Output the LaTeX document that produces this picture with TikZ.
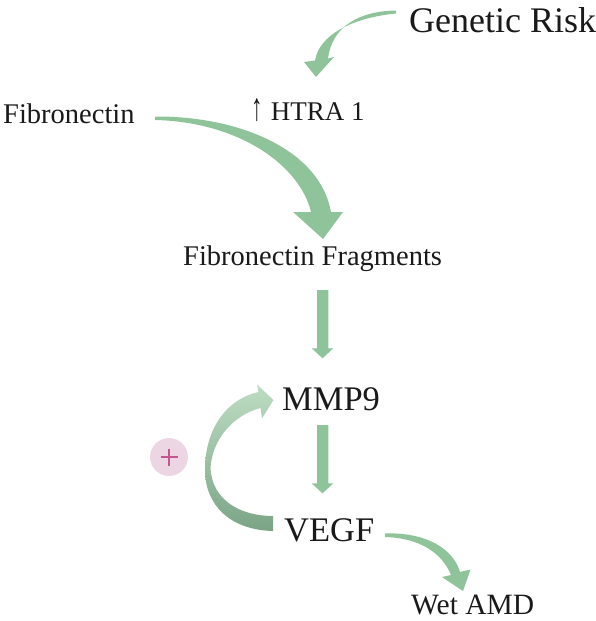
\documentclass[tikz,border=0pt]{standalone}
\usepackage{fontspec}
\setmainfont{Liberation Serif}
\definecolor{arrowgreen}{HTML}{8FC49B}
\definecolor{looplight}{HTML}{BDDDC2}
\definecolor{loopdark}{HTML}{7BA486}
\definecolor{pinkfill}{HTML}{EDD6E3}
\definecolor{pluscol}{HTML}{C2588F}
\definecolor{txt}{HTML}{1A1A1A}
\tikzset{
  lbl/.style={anchor=base west, inner sep=0pt, text=txt},
  greenarrow/.style={fill=arrowgreen, draw=none},
  plusbadge/.style={circle, fill=pinkfill, draw=none, minimum size=38pt, inner sep=0pt},
}
\begin{document}
\begin{tikzpicture}[x=1pt,y=-1pt]
\useasboundingbox (0,0) rectangle (596,621);
% text nodes
\node[lbl, font=\fontsize{36}{40}\selectfont] (genetic) at (409,32) {Genetic Risk};
\node[lbl, font=\fontsize{27}{30}\selectfont] (htra) at (251,120) {\scalebox{0.85}[1.45]{↑}\hspace{0.3em}HTRA 1};
\node[lbl, font=\fontsize{28.5}{32}\selectfont] (fibro) at (3,123) {Fibronectin};
\node[lbl, font=\fontsize{28.5}{32}\selectfont] (frag) at (183,265) {Fibronectin Fragments};
\node[lbl, font=\fontsize{34.5}{38}\selectfont] (mmp) at (282,410) {MMP9};
\node[lbl, font=\fontsize{34.5}{38}\selectfont] (vegf) at (284,541) {VEGF};
\node[lbl, font=\fontsize{29.5}{33}\selectfont] (wet) at (411,614) {Wet AMD};
\node[plusbadge] (plus) at (169,457) {};
\draw[pluscol, line width=2.6pt] ([xshift=-8.5pt]plus.center) -- ([xshift=8.5pt]plus.center);
\draw[pluscol, line width=2.6pt] ([yshift=-8.5pt]plus.center) -- ([yshift=8.5pt]plus.center);

% Genetic Risk -> HTRA 1
\fill[greenarrow] (396,10.5) .. controls (360,11) and (332,26) .. (328,58.5)
  -- (334,57) -- (316,77) -- (304,62) -- (315,60.5)
  .. controls (319,36) and (350,18) .. (396,13.5) -- cycle;

% Fibronectin -> Fibronectin Fragments
\fill[greenarrow] (155,116.5) .. controls (240,116) and (320,150) .. (331,212)
  -- (343,212) -- (323,239) -- (293,212) -- (311,212)
  .. controls (300,166) and (240,122) .. (155,120) -- cycle;

% Fragments -> MMP9
\fill[greenarrow] (317,290) -- (328.3,290) -- (328.3,348.3) -- (333.3,348.3)
  -- (322.5,358.3) -- (311.7,348.3) -- (317,348.3) -- cycle;

% MMP9 -> VEGF
\fill[greenarrow] (317,425) -- (328.3,425) -- (328.3,483.3) -- (333.3,483.3)
  -- (322.5,493.3) -- (311.7,483.3) -- (317,483.3) -- cycle;

% VEGF -> Wet AMD
\fill[greenarrow] (385,533.5) .. controls (420,532) and (452,545) .. (460,572)
  -- (470.5,569.5) -- (463,591) -- (442,577) -- (451,575)
  .. controls (442,553) and (420,538) .. (385,537) -- cycle;

% VEGF -> MMP9 loop
\shade[top color=looplight, bottom color=loopdark]
  (273,531) .. controls (230,530) and (205,505) .. (205,470)
  .. controls (205,425) and (230,398) .. (258.5,392)
  -- (257,384.5) -- (273.5,400) -- (262,418.5) -- (260.5,408)
  .. controls (233,415) and (212,440) .. (210.5,468)
  .. controls (212,500) and (240,516) .. (273,516) -- cycle;
\end{tikzpicture}
\end{document}
